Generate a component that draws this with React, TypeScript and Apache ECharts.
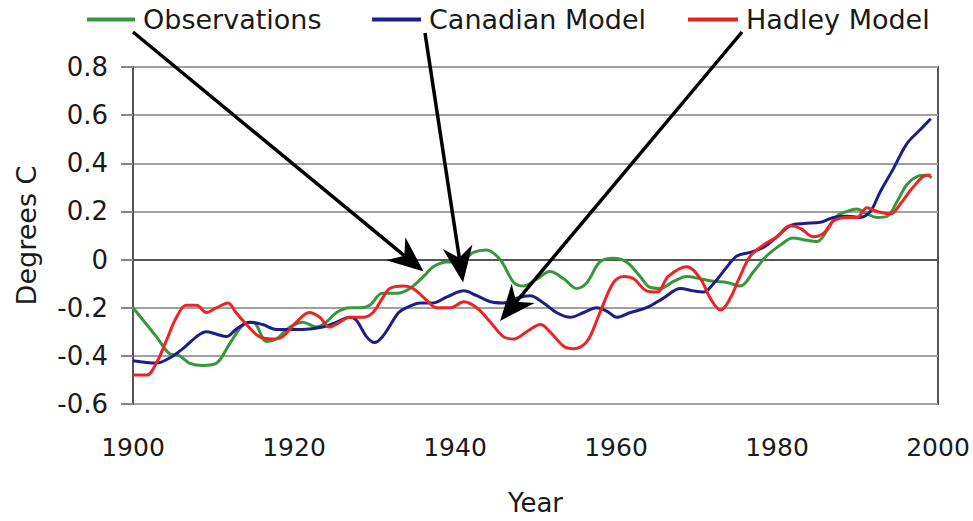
import React, { useEffect, useRef } from "react";
import * as echarts from "echarts";

// ---- Data ----
const obsYears = [1900, 1902.9, 1904.5, 1905.8, 1907, 1908.7, 1910.4, 1912, 1913.7, 1914.9, 1916.6, 1917.8, 1919.5, 1921.1, 1922.8, 1924, 1925.3, 1926.9, 1928.2, 1929.4, 1931, 1932.8, 1934.4, 1936.1, 1937.3, 1939, 1940.6, 1942.3, 1943.9, 1945.6, 1947.3, 1948.5, 1950.2, 1951.8, 1953.5, 1955.1, 1956.4, 1958, 1959.7, 1961.3, 1963, 1964.2, 1965.5, 1967.2, 1968.8, 1970.5, 1972.1, 1973.8, 1975.4, 1977.1, 1978.7, 1980.4, 1982, 1983.7, 1985, 1986.2, 1987.4, 1988.7, 1989.9, 1991.2, 1992.4, 1993.7, 1994.9, 1996.1, 1997.4, 1998.6, 1999.2];
const obsValues = [-0.2, -0.32, -0.39, -0.4, -0.43, -0.44, -0.43, -0.35, -0.27, -0.26, -0.34, -0.33, -0.28, -0.26, -0.28, -0.26, -0.22, -0.2, -0.2, -0.19, -0.14, -0.14, -0.12, -0.07, -0.03, -0.01, -0.01, 0.03, 0.04, 0.0, -0.095, -0.11, -0.08, -0.05, -0.08, -0.12, -0.095, -0.01, 0.005, -0.01, -0.07, -0.115, -0.12, -0.09, -0.07, -0.08, -0.09, -0.095, -0.11, -0.05, 0.015, 0.06, 0.09, 0.08, 0.075, 0.12, 0.18, 0.2, 0.21, 0.19, 0.175, 0.18, 0.24, 0.31, 0.345, 0.35, 0.34];

const canYears = [1900, 1902.9, 1904.5, 1906.2, 1907.9, 1909.1, 1910.4, 1911.6, 1912.8, 1914.5, 1916.1, 1917.8, 1919.5, 1921.1, 1923.6, 1925.3, 1926.9, 1927.7, 1929, 1930, 1931, 1932, 1933, 1934, 1935.7, 1937.3, 1939, 1941.1, 1942.7, 1944.4, 1946, 1947.7, 1949.3, 1951, 1952.6, 1954.3, 1956, 1957.6, 1958.9, 1960.1, 1961.8, 1963.8, 1965.9, 1968, 1969.6, 1970.9, 1972.1, 1973.8, 1975, 1976.7, 1978.3, 1980, 1981.6, 1983.3, 1985.4, 1987, 1988.7, 1990.3, 1991.6, 1992.8, 1994.5, 1996.1, 1997.8, 1999.1];
const canValues = [-0.42, -0.43, -0.41, -0.37, -0.32, -0.3, -0.31, -0.32, -0.29, -0.26, -0.27, -0.29, -0.29, -0.29, -0.28, -0.26, -0.24, -0.25, -0.32, -0.345, -0.32, -0.27, -0.22, -0.2, -0.18, -0.18, -0.155, -0.13, -0.15, -0.175, -0.18, -0.16, -0.15, -0.18, -0.22, -0.24, -0.22, -0.2, -0.215, -0.24, -0.22, -0.2, -0.16, -0.12, -0.13, -0.135, -0.1, -0.03, 0.015, 0.03, 0.05, 0.095, 0.14, 0.15, 0.155, 0.175, 0.18, 0.175, 0.2, 0.28, 0.38, 0.48, 0.54, 0.585];

const hadYears = [1900, 1901.7, 1902.9, 1904.1, 1905.4, 1906.6, 1907.9, 1909.1, 1910.4, 1911.8, 1912.8, 1914.1, 1915.7, 1917.4, 1918.6, 1920.3, 1921.9, 1923.2, 1924.4, 1925.7, 1926.9, 1928.6, 1929.8, 1931, 1931.9, 1933.6, 1934.8, 1936.5, 1937.7, 1939.4, 1941.1, 1942.7, 1944.4, 1946, 1947.3, 1948.9, 1950.6, 1951.8, 1953.5, 1954.7, 1956.4, 1958, 1959.7, 1961, 1962.2, 1963.8, 1965.1, 1966.5, 1968.8, 1970.5, 1971.7, 1973, 1974.2, 1975.4, 1976.7, 1978.3, 1980, 1981.6, 1982.9, 1984.5, 1985.8, 1987, 1988.7, 1989.9, 1991.2, 1992.4, 1994.1, 1995.3, 1996.9, 1998.6, 1999.1];
const hadValues = [-0.48, -0.48, -0.43, -0.34, -0.24, -0.19, -0.19, -0.22, -0.2, -0.18, -0.22, -0.27, -0.32, -0.33, -0.32, -0.26, -0.22, -0.24, -0.28, -0.26, -0.24, -0.24, -0.22, -0.16, -0.12, -0.11, -0.12, -0.17, -0.2, -0.2, -0.175, -0.2, -0.26, -0.32, -0.33, -0.3, -0.27, -0.3, -0.36, -0.37, -0.34, -0.22, -0.095, -0.07, -0.08, -0.13, -0.135, -0.07, -0.03, -0.08, -0.16, -0.21, -0.16, -0.07, 0.015, 0.06, 0.095, 0.14, 0.13, 0.095, 0.11, 0.16, 0.175, 0.175, 0.215, 0.2, 0.19, 0.23, 0.3, 0.35, 0.35];

const seriesNames = ["Observations", "Canadian Model", "Hadley Model"];
const seriesColors = ["#37973c", "#1d1d8c", "#ee2323"];

// Arrow targets in data space (year, degrees C)
const arrowTips = [
  [1936.1, -0.05],
  [1941.0, -0.095],
  [1945.6, -0.255],
];
// Arrow tails near the legend (pixels)
const arrowTails = [
  [133, 32],
  [425, 33],
  [742, 32],
];

const FONT = "DejaVu Sans";
const TEXT = "#1a1a1a";

function zip(xs: number[], ys: number[]) {
  return xs.map((x, i) => [x, ys[i]]);
}

export default function App() {
  const ref = useRef<HTMLDivElement>(null);
  useEffect(() => {
    if (!ref.current) return;
    const chart = echarts.init(ref.current, null, { renderer: "svg" });
    const datasets = [zip(obsYears, obsValues), zip(canYears, canValues), zip(hadYears, hadValues)];
    const legendLefts = [87, 372, 688];
    const legendWidths = [48, 49, 50];
    chart.setOption({
      animation: false,
      backgroundColor: "#ffffff",
      legend: seriesNames.map((n, i) => ({
        data: [n],
        left: legendLefts[i],
        top: 6,
        padding: 0,
        icon: "rect",
        itemWidth: legendWidths[i],
        itemHeight: 4,
        selectedMode: false,
        textStyle: { fontFamily: FONT, fontSize: 27, color: TEXT, padding: [0, 0, 0, 3] },
      })),
      grid: {
        left: 133,
        top: 67,
        width: 805,
        height: 344,
        show: true,
        borderColor: "#555555",
        borderWidth: 2,
        backgroundColor: "transparent",
      },
      xAxis: {
        type: "value",
        min: 1900,
        max: 2000,
        interval: 20,
        name: "Year",
        nameLocation: "middle",
        nameGap: 86,
        nameTextStyle: { fontFamily: FONT, fontSize: 26, color: TEXT },
        axisLine: { show: true, lineStyle: { color: "#555555", width: 2 } },
        axisTick: { show: false },
        splitLine: { show: false },
        axisLabel: {
          fontFamily: FONT,
          fontSize: 25,
          color: TEXT,
          margin: 31,
          formatter: (v: number) => String(Math.round(v)),
        },
      },
      yAxis: {
        type: "value",
        min: -0.6,
        max: 0.8,
        interval: 0.2,
        name: "Degrees C",
        nameLocation: "middle",
        nameRotate: 90,
        nameGap: 93,
        nameTextStyle: { fontFamily: FONT, fontSize: 27, color: TEXT },
        axisLine: { show: true, lineStyle: { color: "#555555", width: 2 } },
        axisTick: { show: true, length: 12, lineStyle: { color: "#888888", width: 2 } },
        splitLine: { show: true, lineStyle: { color: "#a0a0a0", width: 2 } },
        axisLabel: {
          fontFamily: FONT,
          fontSize: 26,
          color: TEXT,
          margin: 25,
          formatter: (v: number) => String(Math.round(v * 10) / 10),
        },
      },
      series: datasets.map((d, i) => ({
        type: "line",
        name: seriesNames[i],
        data: d,
        showSymbol: false,
        symbol: "none",
        smooth: 0.35,
        lineStyle: { color: seriesColors[i], width: 3 },
        itemStyle: { color: seriesColors[i] },
        z: 2 + i,
      })),
    });

    // Arrows (annotation) anchored to data-space tips
    const L = 36;
    const W = 15;
    const NOTCH = 11;
    const graphics: any[] = [];
    arrowTips.forEach((tip, i) => {
      const p = chart.convertToPixel({ gridIndex: 0 }, tip) as number[];
      const [sx, sy] = arrowTails[i];
      const dx = p[0] - sx;
      const dy = p[1] - sy;
      const len = Math.sqrt(dx * dx + dy * dy);
      const ux = dx / len;
      const uy = dy / len;
      const nx = -uy;
      const ny = ux;
      const bx = p[0] - L * ux;
      const by = p[1] - L * uy;
      const mx = p[0] - (L - NOTCH) * ux;
      const my = p[1] - (L - NOTCH) * uy;
      graphics.push({
        type: "line",
        shape: { x1: sx, y1: sy, x2: mx, y2: my },
        style: { stroke: "#000000", lineWidth: 3.5 },
        z: 100,
      });
      graphics.push({
        type: "polygon",
        shape: {
          points: [
            [p[0], p[1]],
            [bx + W * nx, by + W * ny],
            [mx, my],
            [bx - W * nx, by - W * ny],
          ],
        },
        style: { fill: "#000000" },
        z: 100,
      });
    });
    chart.setOption({ graphic: graphics });

    return () => chart.dispose();
  }, []);
  return (
    <div
      ref={ref}
      style={{ position: "fixed", left: 0, top: 0, width: 973, height: 521 }}
    />
  );
}
